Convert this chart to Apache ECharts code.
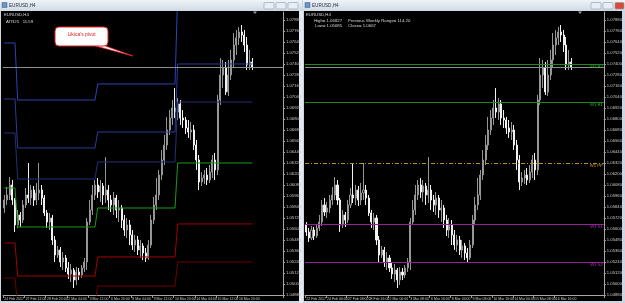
<!DOCTYPE html>
<html>
<head>
<meta charset="utf-8">
<script src="https://cdn.jsdelivr.net/npm/echarts@6/dist/echarts.min.js"></script>
<style>
  html, body { margin: 0; padding: 0; background: #d3dbe5; }
  #chart { width: 625px; height: 303px; }
</style>
</head>
<body>
<div id="chart"></div>
<script>
// H4 bars, EURUSD, 22 Feb 16:00 .. 17 Mar 2017
var tradingDays = ['22 Feb', '23 Feb', '24 Feb', '27 Feb', '28 Feb', '1 Mar', '2 Mar', '3 Mar', '6 Mar',
  '7 Mar', '8 Mar', '9 Mar', '10 Mar', '13 Mar', '14 Mar', '15 Mar', '16 Mar', '17 Mar'];
var barHours = ['00:00', '04:00', '08:00', '12:00', '16:00', '20:00'];

// [open, close, low, high]
var candles = [
  [1.05644, 1.05567, 1.05524, 1.05676], [1.05567, 1.05502, 1.05458, 1.05611], [1.05502, 1.05589, 1.05480, 1.05633],
  [1.05589, 1.05524, 1.05480, 1.05622], [1.05524, 1.05611, 1.05502, 1.05655], [1.05611, 1.05676, 1.05578, 1.05753],
  [1.05676, 1.05862, 1.05633, 1.05916], [1.05862, 1.05785, 1.05742, 1.05938], [1.05785, 1.05829, 1.05720, 1.05895],
  [1.05829, 1.05916, 1.05775, 1.05971], [1.05916, 1.05971, 1.05862, 1.06058], [1.05971, 1.06080, 1.05916, 1.06167],
  [1.06080, 1.05916, 1.05862, 1.06135], [1.05916, 1.05644, 1.05567, 1.05938], [1.05644, 1.05753, 1.05611, 1.05807],
  [1.05753, 1.05698, 1.05622, 1.05785], [1.05698, 1.05862, 1.05665, 1.05916], [1.05862, 1.05971, 1.05829, 1.06047],
  [1.05971, 1.05938, 1.05884, 1.06320], [1.05938, 1.06025, 1.05862, 1.06080], [1.06025, 1.05916, 1.05851, 1.06069],
  [1.05916, 1.05993, 1.05862, 1.06102], [1.05993, 1.06025, 1.05916, 1.06320], [1.06025, 1.05938, 1.05862, 1.06080],
  [1.05938, 1.05775, 1.05742, 1.05971], [1.05775, 1.05676, 1.05611, 1.05807], [1.05676, 1.05720, 1.05589, 1.05775],
  [1.05720, 1.05480, 1.05425, 1.05753], [1.05480, 1.05316, 1.05240, 1.05524], [1.05316, 1.05371, 1.05284, 1.05415],
  [1.05371, 1.05240, 1.05185, 1.05404], [1.05240, 1.05284, 1.05153, 1.05349], [1.05284, 1.05175, 1.05131, 1.05316],
  [1.05175, 1.05109, 1.05055, 1.05240], [1.05109, 1.05153, 1.05022, 1.05218], [1.05153, 1.05044, 1.04956, 1.05175],
  [1.05044, 1.05131, 1.04989, 1.05185], [1.05131, 1.05098, 1.05044, 1.05175], [1.05098, 1.05175, 1.05065, 1.05207],
  [1.05175, 1.05240, 1.05131, 1.05284], [1.05240, 1.05676, 1.05153, 1.05720], [1.05676, 1.05807, 1.05644, 1.05916],
  [1.05807, 1.05971, 1.05753, 1.06080], [1.05971, 1.06080, 1.05916, 1.06135], [1.06080, 1.06004, 1.05938, 1.06156],
  [1.06004, 1.06069, 1.05895, 1.06135], [1.06069, 1.05971, 1.05862, 1.06102], [1.05971, 1.06025, 1.05884, 1.06385],
  [1.06025, 1.05916, 1.05807, 1.06080], [1.05916, 1.05862, 1.05785, 1.05971], [1.05862, 1.05938, 1.05753, 1.06004],
  [1.05938, 1.05807, 1.05720, 1.05971], [1.05807, 1.05829, 1.05676, 1.05916], [1.05829, 1.05698, 1.05611, 1.05862],
  [1.05698, 1.05589, 1.05524, 1.05753], [1.05589, 1.05644, 1.05502, 1.05720], [1.05644, 1.05535, 1.05425, 1.05698],
  [1.05535, 1.05425, 1.05371, 1.05589], [1.05425, 1.05480, 1.05349, 1.05535], [1.05480, 1.05371, 1.05316, 1.05524],
  [1.05371, 1.05415, 1.05284, 1.05480], [1.05415, 1.05338, 1.05262, 1.05447], [1.05338, 1.05284, 1.05240, 1.05393],
  [1.05284, 1.05425, 1.05262, 1.05480], [1.05425, 1.05698, 1.05393, 1.05753], [1.05698, 1.05862, 1.05655, 1.05949],
  [1.05862, 1.05971, 1.05807, 1.06156], [1.05971, 1.06189, 1.05916, 1.06244], [1.06189, 1.06353, 1.06135, 1.06462],
  [1.06353, 1.06516, 1.06298, 1.06625], [1.06516, 1.06680, 1.06462, 1.06822], [1.06680, 1.06811, 1.06625, 1.06898],
  [1.06811, 1.06920, 1.06735, 1.07007], [1.06920, 1.06876, 1.06811, 1.07138], [1.06876, 1.06964, 1.06789, 1.07029],
  [1.06964, 1.06811, 1.06735, 1.07007], [1.06811, 1.06789, 1.06702, 1.06898], [1.06789, 1.06702, 1.06636, 1.06822],
  [1.06702, 1.06658, 1.06593, 1.06789], [1.06658, 1.06680, 1.06571, 1.06767], [1.06680, 1.06516, 1.06462, 1.06735],
  [1.06516, 1.06353, 1.06244, 1.06571], [1.06353, 1.06113, 1.06025, 1.06407], [1.06113, 1.06156, 1.06069, 1.06222],
  [1.06156, 1.06189, 1.06091, 1.06244], [1.06189, 1.06135, 1.06080, 1.06265], [1.06135, 1.06222, 1.06102, 1.06298],
  [1.06222, 1.06353, 1.06156, 1.06407], [1.06353, 1.06244, 1.06135, 1.06429], [1.06244, 1.07007, 1.06189, 1.07062],
  [1.07007, 1.07280, 1.06953, 1.07465], [1.07280, 1.07356, 1.07138, 1.07444], [1.07356, 1.07095, 1.07062, 1.07422],
  [1.07095, 1.07280, 1.07051, 1.07444], [1.07280, 1.07444, 1.07225, 1.07553], [1.07444, 1.07607, 1.07367, 1.07738],
  [1.07607, 1.07684, 1.07498, 1.07771], [1.07684, 1.07749, 1.07607, 1.07804], [1.07749, 1.07716, 1.07640, 1.07825],
  [1.07716, 1.07607, 1.07531, 1.07771], [1.07607, 1.07389, 1.07335, 1.07695], [1.07389, 1.07422, 1.07335, 1.07553],
  [1.07422, 1.07367, 1.07335, 1.07465]
];
var bidPrice = 1.07367;

// weekly pivot levels (Likica's pivot), one value per week
var weekStart = [0, 14, 44, 74];
var weekR3 = [1.07629, 1.07007, 1.07182, 1.08153];
var weekR2 = [1.07018, 1.06484, 1.06658, 1.07400];
var weekR1 = [1.06647, 1.06145, 1.06331, 1.06985];
var weekPP = [1.06047, 1.05622, 1.05829, 1.06320];
var weekS1 = [1.05447, 1.05087, 1.05295, 1.05655];
var weekS2 = [1.05066, 1.04760, 1.04978, 1.05240];

// current week levels drawn on the right chart
var levelNames = ['W1 R2', 'W1 R1', 'W1 PP', 'W1 S1', 'W1 S2'];
var levelValues = [1.07400, 1.06985, 1.06320, 1.05655, 1.05240];

var priceMin = 1.04880, priceMax = 1.07967, priceStep = 0.0012;
var leftFirstBar = 9;
var leftPad = 11, rightPad = 12;

var FONT = 'Liberation Sans';
var NARROW = "'Liberation Sans Narrow', 'Liberation Sans'";

// bar times
var barTimes = [];
tradingDays.forEach(function (d) {
  barHours.forEach(function (h) { barTimes.push(d + ' ' + h); });
});
barTimes = barTimes.slice(4, 4 + candles.length);

function padCats(list, n) {
  var out = list.slice();
  for (var i = 0; i < n; i++) { out.push('pad' + i); }
  return out;
}
var leftCats = padCats(barTimes.slice(leftFirstBar), leftPad);
var rightCats = padCats(barTimes, rightPad);

function stepPoints(levels, firstBar) {
  var pts = [];
  var last = candles.length - 1;
  for (var w = 0; w < levels.length; w++) {
    var a = Math.max(weekStart[w], firstBar);
    var b = (w + 1 < weekStart.length ? weekStart[w + 1] - 1 : last);
    if (b < firstBar) { continue; }
    pts.push([a - firstBar, levels[w]]);
    pts.push([b - firstBar, levels[w]]);
  }
  return pts;
}

function timeAxis(gridIndex, cats, nData) {
  var show = function (idx) { return idx % 8 === 0 && idx < nData; };
  return {
    type: 'category', gridIndex: gridIndex, data: cats, boundaryGap: true, z: 3,
    axisLine: { show: true, lineStyle: { color: '#a8a8a8', width: 1 } },
    axisTick: { show: true, interval: show, length: 3, lineStyle: { color: '#9a9a9a' } },
    axisLabel: {
      interval: show, align: 'left', margin: 2, fontSize: 3.5, fontFamily: NARROW, color: '#c8c8c8',
      showMinLabel: true, hideOverlap: false,
      formatter: function (v, idx) {
        if (idx === 0) { return v.split(' ').slice(0, 2).join(' ') + ' 2017'; }
        return v;
      }
    },
    splitLine: { show: false }
  };
}

function priceAxis(gridIndex) {
  return {
    type: 'value', gridIndex: gridIndex, position: 'right', z: 3,
    min: priceMin, max: priceMax, interval: priceStep,
    axisLine: { show: true, lineStyle: { color: '#a8a8a8', width: 1 } },
    axisTick: { show: true, length: 2, lineStyle: { color: '#a8a8a8' } },
    axisLabel: {
      margin: 3, fontSize: 4.2, fontFamily: FONT, color: '#c8c8c8', showMaxLabel: false,
      formatter: function (v) { return v.toFixed(5); }
    },
    splitLine: { show: false }
  };
}

var candleStyle = {
  color: '#000000', borderColor: '#969696',
  color0: '#f2f2f2', borderColor0: '#f2f2f2', borderWidth: 1
};

function bidMark() {
  return [
    { yAxis: bidPrice, lineStyle: { color: '#8e8e8e', width: 1, type: 'solid' }, label: { show: false } },
    { yAxis: bidPrice, lineStyle: { opacity: 0 },
      label: { show: true, position: 'end', distance: 1, formatter: bidPrice.toFixed(5), fontSize: 4.2,
        fontFamily: FONT, color: '#000', backgroundColor: '#ffffff', padding: [1, 1] } }
  ];
}

var levelLine = [
  { color: '#1f8a1f', text: '#2fae2f', box: '#36c436', boxText: '#0d3a0d', type: 'solid' },
  { color: '#1f8a1f', text: '#2fae2f', box: '#36c436', boxText: '#0d3a0d', type: 'solid' },
  { color: '#b8901c', text: '#c9a023', box: '#e8cc1a', boxText: '#222', type: [4, 2, 1, 2] },
  { color: '#9a1f9a', text: '#b232b2', box: '#d82ed8', boxText: '#fde0fd', type: 'solid' },
  { color: '#9a1f9a', text: '#b232b2', box: '#d82ed8', boxText: '#fde0fd', type: 'solid' }
];

var rightMarks = [];
levelValues.forEach(function (v, i) {
  var st = levelLine[i];
  rightMarks.push({ yAxis: v, lineStyle: { color: st.color, width: 1, type: st.type },
    label: { show: true, position: 'insideEndBottom', distance: [1, 1], formatter: levelNames[i],
      fontSize: 4.2, fontFamily: FONT, color: st.text } });
  rightMarks.push({ yAxis: v, lineStyle: { opacity: 0 },
    label: { show: true, position: 'end', distance: 1, formatter: v.toFixed(5), fontSize: 4.2,
      fontFamily: FONT, color: st.boxText, backgroundColor: st.box, padding: [1, 1] } });
});
rightMarks = rightMarks.concat(bidMark());

var pivotLines = [
  { name: 'R3', levels: weekR3, color: '#2b44b8' },
  { name: 'R2', levels: weekR2, color: '#2a3c98' },
  { name: 'R1', levels: weekR1, color: '#223078' },
  { name: 'PP', levels: weekPP, color: '#1a9a1a' },
  { name: 'S1', levels: weekS1, color: '#a30000' },
  { name: 'S2', levels: weekS2, color: '#6e0000' }
];

var series = [
  {
    type: 'candlestick', xAxisIndex: 0, yAxisIndex: 0, barWidth: 1.6,
    data: candles.slice(leftFirstBar), itemStyle: candleStyle, silent: true,
    markLine: { symbol: ['none', 'none'], silent: true, animation: false, precision: 5, data: bidMark() }
  },
  {
    type: 'candlestick', xAxisIndex: 1, yAxisIndex: 1, barWidth: 1.6,
    data: candles, itemStyle: candleStyle, silent: true,
    markLine: { symbol: ['none', 'none'], silent: true, animation: false, precision: 5, data: rightMarks }
  }
];
pivotLines.forEach(function (p) {
  series.push({
    type: 'line', xAxisIndex: 0, yAxisIndex: 0, name: p.name, data: stepPoints(p.levels, leftFirstBar),
    symbol: 'none', silent: true, z: 3, lineStyle: { color: p.color, width: 1 }
  });
});

function btn(x, w, fill) {
  return { type: 'rect', shape: { x: x, y: 2.5, width: w, height: 6.5, r: 1 },
    style: { fill: fill || '#e9eef4', stroke: '#8d9aab', lineWidth: 0.6 }, z: 1 };
}
function txt(x, y, s, color, size) {
  return { type: 'text', x: x, y: y, z: 20,
    style: { text: s, fill: color, fontSize: size || 4.3, fontFamily: FONT, textVerticalAlign: 'top' } };
}

var titleFill = new echarts.graphic.LinearGradient(0, 0, 0, 1, [
  { offset: 0, color: '#f0f4f8' }, { offset: 1, color: '#cfd9e4' }
]);

var graphics = [
  // window frames
  { type: 'rect', shape: { x: 0, y: 0, width: 303, height: 303 }, style: { fill: '#cdd6e1' }, z: 0 },
  { type: 'rect', shape: { x: 303, y: 0, width: 322, height: 303 }, style: { fill: '#cdd6e1' }, z: 0 },
  { type: 'rect', shape: { x: 0, y: 0, width: 302, height: 11 }, style: { fill: titleFill }, z: 0 },
  { type: 'rect', shape: { x: 303, y: 0, width: 322, height: 11 }, style: { fill: titleFill }, z: 0 },
  { type: 'rect', shape: { x: 299, y: 11, width: 4, height: 292 }, style: { fill: '#e4e9ef' }, z: 0 },
  // black chart areas
  { type: 'rect', shape: { x: 1, y: 11, width: 298, height: 290 }, style: { fill: '#000' }, z: 0 },
  { type: 'rect', shape: { x: 304, y: 11, width: 318, height: 290 }, style: { fill: '#000' }, z: 0 },
  // title icons + buttons
  { type: 'rect', shape: { x: 2, y: 2.5, width: 5, height: 5 }, style: { fill: '#6f93c0', stroke: '#3b5f8f', lineWidth: 0.5 }, z: 1 },
  { type: 'rect', shape: { x: 305, y: 2.5, width: 5, height: 5 }, style: { fill: '#6f93c0', stroke: '#3b5f8f', lineWidth: 0.5 }, z: 1 },
  btn(264, 10), btn(276, 10), btn(288, 10),
  btn(591, 10), btn(603, 10), btn(615, 9, '#d9493a'),
  txt(9, 2.8, 'EURUSD,H4', '#1e2a3a', 4.6),
  txt(312, 2.8, 'EURUSD,H4', '#1e2a3a', 4.6),
  // chart info texts
  txt(4, 12.5, 'EURUSD,H4', '#d8d8d8'),
  txt(6, 20, 'ATR25   11:59', '#d8d8d8'),
  txt(306, 12.5, 'EURUSD,H4', '#d8d8d8'),
  txt(314, 18.5, 'High= 1.06827     Previous Weekly Range= 114.20', '#d8d8d8'),
  txt(315, 23.5, 'Low= 1.05685     Close= 1.0667', '#d8d8d8'),
  // chart shift markers
  { type: 'polygon', shape: { points: [[253, 11.5], [257, 11.5], [255, 14]] }, style: { fill: '#9a9a9a' }, z: 20 },
  { type: 'polygon', shape: { points: [[578, 11.5], [582, 11.5], [580, 14]] }, style: { fill: '#9a9a9a' }, z: 20 },
  // callout
  { type: 'polygon', shape: { points: [[88, 44], [100, 44], [133, 56]] },
    style: { fill: '#ffffff', stroke: '#e32121', lineWidth: 0.8 }, z: 20 },
  { type: 'rect', shape: { x: 55, y: 27, width: 53, height: 19, r: 4 },
    style: { fill: '#ffffff', stroke: '#e32121', lineWidth: 1 }, z: 21 },
  { type: 'text', x: 81.5, y: 35, z: 22,
    style: { text: "Likica's pivot", fill: '#e32121', fontSize: 5, fontFamily: FONT,
      textAlign: 'center', textVerticalAlign: 'middle' } }
];

var chart = echarts.init(document.getElementById('chart'));
chart.setOption({
  animation: false,
  backgroundColor: '#cdd6e1',
  graphic: { elements: graphics },
  grid: [
    { left: 3, top: 12, width: 280, height: 283 },
    { left: 305, top: 12, width: 308, height: 283 }
  ],
  xAxis: [timeAxis(0, leftCats, candles.length - leftFirstBar), timeAxis(1, rightCats, candles.length)],
  yAxis: [priceAxis(0), priceAxis(1)],
  series: series
});
</script>
</body>
</html>
